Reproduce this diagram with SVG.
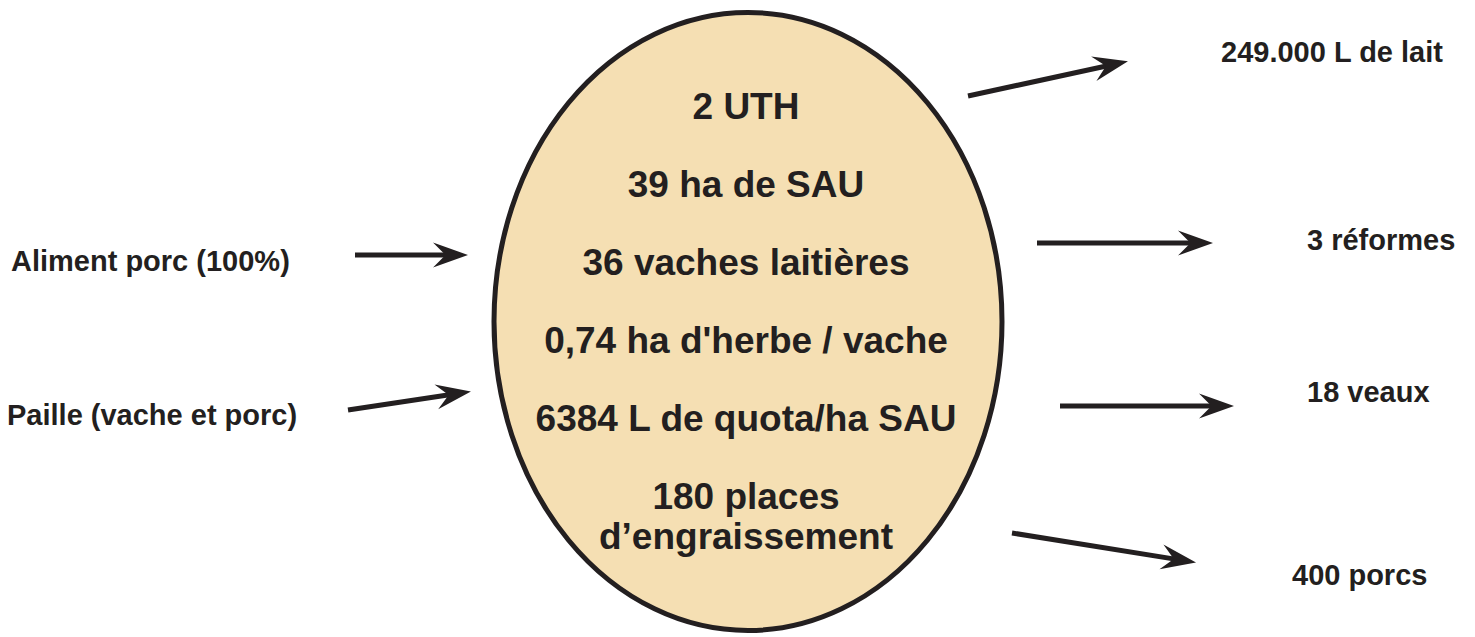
<svg xmlns="http://www.w3.org/2000/svg" width="1475" height="637" viewBox="0 0 1475 637">
<style>
.big{font-family:"Liberation Sans",Arial,sans-serif;font-weight:bold;font-size:37px;fill:#231F20;text-anchor:middle}
.lbl{font-family:"Liberation Sans",Arial,sans-serif;font-weight:bold;font-size:29px;fill:#231F20}
.arr{stroke:#231F20;stroke-width:5;fill:none}
</style>
<defs>
<marker id="ah" markerUnits="userSpaceOnUse" markerWidth="40" markerHeight="30" viewBox="-30 -12 32 24" refX="-12" refY="0" orient="auto">
<path d="M0,0 L-28,-10 L-18,0 L-28,10 Z" fill="#231F20"/>
</marker>
</defs>
<rect width="1475" height="637" fill="#ffffff"/>
<g id="center">
<ellipse cx="748" cy="321.5" rx="254" ry="309" fill="#F5DFB3" stroke="#231F20" stroke-width="5"/>
<text class="big" x="746" y="119">2 UTH</text>
<text class="big" x="746" y="197">39 ha de SAU</text>
<text class="big" x="746" y="275">36 vaches laitières</text>
<text class="big" x="746" y="353">0,74 ha d'herbe / vache</text>
<text class="big" x="746" y="431">6384 L de quota/ha SAU</text>
<text class="big" x="746" y="509">180 places</text>
<text class="big" x="746" y="549">d’engraissement</text>
</g>
<g id="in-aliment"><text class="lbl" x="11" y="271">Aliment porc (100%)</text></g>
<g id="in-paille"><text class="lbl" x="7" y="425">Paille (vache et porc)</text></g>
<g id="out-lait"><text class="lbl" x="1221" y="62">249.000 L de lait</text></g>
<g id="out-reformes"><text class="lbl" x="1307" y="250">3 réformes</text></g>
<g id="out-veaux"><text class="lbl" x="1307" y="402">18 veaux</text></g>
<g id="out-porcs"><text class="lbl" x="1292" y="585">400 porcs</text></g>
<g id="connectors">
<line class="arr" x1="968" y1="96" x2="1113.3" y2="64.5" marker-end="url(#ah)"/>
<line class="arr" x1="355" y1="255" x2="453" y2="255" marker-end="url(#ah)"/>
<line class="arr" x1="348" y1="410" x2="456.1" y2="393.8" marker-end="url(#ah)"/>
<line class="arr" x1="1037" y1="243" x2="1198" y2="243" marker-end="url(#ah)"/>
<line class="arr" x1="1060" y1="406" x2="1219" y2="406" marker-end="url(#ah)"/>
<line class="arr" x1="1012" y1="533" x2="1181.2" y2="560.1" marker-end="url(#ah)"/>
</g>
</svg>
